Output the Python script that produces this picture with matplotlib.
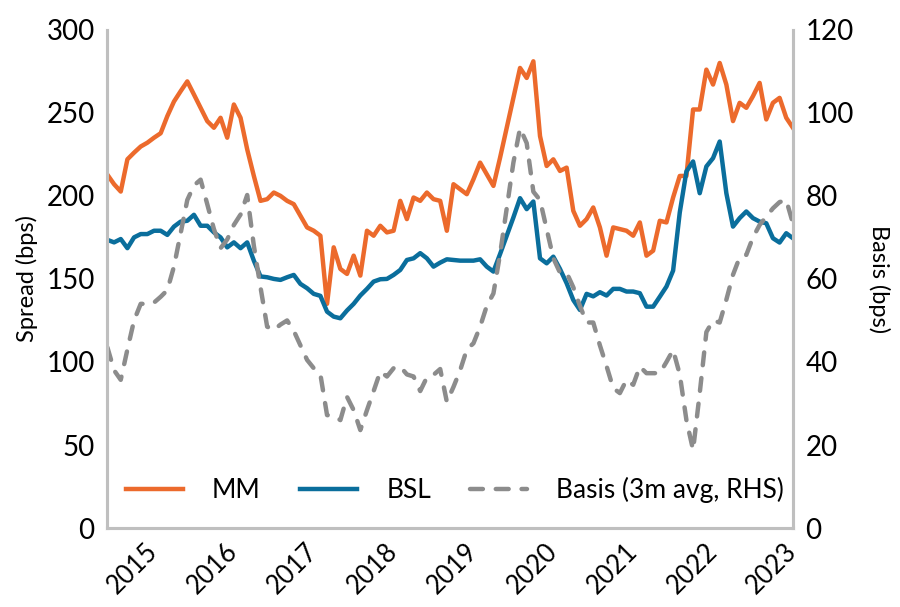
import matplotlib
matplotlib.use('Agg')
import matplotlib.pyplot as plt
import numpy as np

plt.rcParams['font.family'] = ['Lato', 'DejaVu Sans']

# monthly observations, index 0 = mid 2014, last point = Jan 2023
mm = [212.7, 207, 202.6, 222, 226, 229.7, 232, 235, 237.7, 248,
      256.8, 263, 268.9, 261, 253, 245, 241, 247, 235, 255,
      247, 228, 212, 197, 198, 202, 200, 197, 195, 188,
      181, 179, 176, 135, 169, 156, 153, 164, 152, 179,
      176, 182, 178, 179, 197, 186, 199, 197, 202, 198,
      197, 179, 207, 204, 201, 210, 220, 213, 206, 223,
      241, 259, 277, 271, 281, 236, 218, 222, 215, 217,
      191, 182, 186, 193, 181, 164, 181, 180, 179, 176,
      184, 164, 167, 185, 184, 199, 212, 212, 252, 252,
      276, 267, 280, 267, 245, 256, 253, 260, 268, 246,
      256, 259, 247, 241]
bsl = [173.5, 172, 174, 168.5, 175, 177, 177, 179, 179, 176.5,
       181.5, 184.5, 185, 188.6, 182, 182, 178, 175, 169, 172,
       168.5, 172, 161, 151.5, 151, 150, 149.4, 151, 152.4, 147,
       144.4, 141, 139.8, 130.3, 127.3, 126.3, 131, 135, 140, 144,
       148.4, 149.8, 150, 152.4, 155.4, 161.4, 162.4, 165.5, 162.4, 157.4,
       159.8, 161.8, 161.4, 161, 161, 161, 161.8, 157.4, 154.4, 165,
       176, 187, 198.6, 192, 196.6, 162.4, 159.4, 163.4, 156, 147.4,
       137.3, 131.3, 141, 139.5, 142, 140, 144, 144, 142.4, 142.4,
       141.4, 133.3, 133.3, 139.3, 145.4, 155, 190, 214.7, 220.7, 201.6,
       217.7, 222.7, 232.7, 201.6, 181.5, 186.6, 190.6, 186.6, 184.5, 183.5,
       174.5, 171.9, 177.5, 174.5]
basis = [43.5, 38, 35.7, 43, 50, 54, 54, 54.3, 55.7, 57.3,
         63, 71, 79, 82.5, 83.9, 78, 72, 67.4, 69.5, 73,
         75.5, 80.2, 68, 58, 48.5, 47.7, 49, 50, 47.5, 44,
         40.5, 38.5, 37, 27.2, 27, 26, 31.6, 28.4, 23.6, 28.4,
         33, 37.7, 36.5, 38.5, 38.9, 37, 36.5, 33, 36.3, 36.9,
         38.3, 30.4, 34, 38, 43, 44.5, 48.5, 53.5, 56.5, 66,
         77, 88, 96.3, 92.7, 81, 79, 72, 65, 61.5, 61.5,
         58, 53.5, 49.5, 49.5, 44, 39, 33.7, 32.5, 35.7, 34.5,
         38.9, 37.3, 37.3, 37.3, 40, 42.9, 37, 26, 18.8, 32.5,
         47.2, 50, 49.5, 55, 61, 65.2, 65.8, 70, 73, 75,
         77, 78.5, 79, 73.4]
months = np.arange(len(mm))
year_ticks = [7, 19, 31, 43, 55, 67, 79, 91, 103]
year_labels = ['2015', '2016', '2017', '2018', '2019', '2020', '2021', '2022', '2023']

orange = '#EC6A2C'
blue = '#0A6E9C'
grey = '#8C8C8C'
spine = '#BFBFBF'
fs = 20

fig = plt.figure(figsize=(9, 6.07), dpi=100)
ax = fig.add_axes([0.119, 0.130, 0.762, 0.821])
ax2 = ax.twinx()

l1, = ax.plot(months, mm, color=orange, lw=3.2, label='MM')
l2, = ax.plot(months, bsl, color=blue, lw=3.2, label='BSL')
l3, = ax2.plot(months, basis, color=grey, lw=3.2, dashes=(2.9, 2.9),
               dash_capstyle='round', label='Basis (3m avg, RHS)')

ax.set_xlim(-0.05, 103)
ax.set_ylim(0, 300)
ax2.set_ylim(0, 120)
ax.set_yticks(range(0, 301, 50))
ax2.set_yticks(range(0, 121, 20))
ax.set_xticks(year_ticks)
ax.set_xticklabels(year_labels, rotation=45, ha='right', va='center',
                   rotation_mode='anchor')

for a in (ax, ax2):
    a.tick_params(length=0, labelsize=fs)
    a.spines['top'].set_visible(False)
    for s in ('left', 'right', 'bottom'):
        a.spines[s].set_color(spine)
        a.spines[s].set_linewidth(2.2)
ax.tick_params(axis='x', pad=14, labelsize=18.5)
ax.tick_params(axis='y', pad=9)
ax2.tick_params(axis='y', pad=9)

ax.set_ylabel('Spread (bps)', fontsize=17, labelpad=6)
ax2.set_ylabel('Basis (bps)', fontsize=17, rotation=270, labelpad=26)

ax.legend(handles=[l1, l2, l3], loc='center left', bbox_to_anchor=(0.028, 0.076),
          ncol=3, frameon=False, fontsize=19, handlelength=2.15,
          handletextpad=1.1, columnspacing=1.5, borderpad=0, borderaxespad=0)

fig.savefig('out.png', dpi=100)
